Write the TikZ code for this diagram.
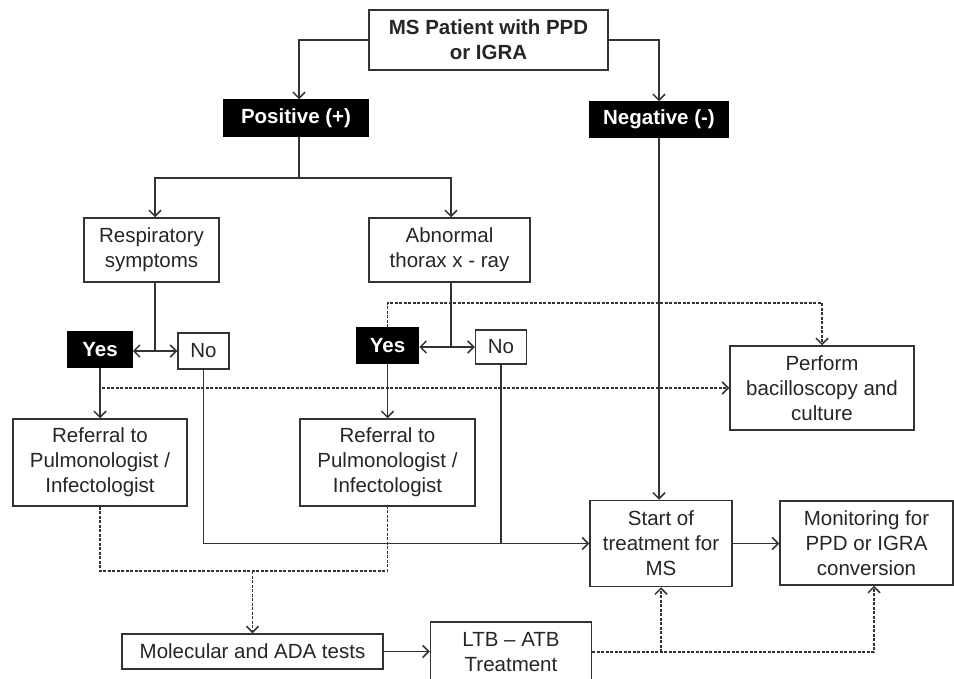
\documentclass[tikz,border=0pt]{standalone}
\usepackage{fontspec}
\setmainfont{Liberation Sans}
\usetikzlibrary{arrows.meta}

\begin{document}
\begin{tikzpicture}[
    x=1pt, y=-1pt,
    >={Straight Barb[length=6pt, width=12pt]},
    every node/.style={rectangle, draw=black!80, line width=1.5pt, inner sep=2pt,
        align=center, font=\fontsize{20.5}{25}\selectfont},
    textbox/.style={fill=white, text=black!85},
    darkbox/.style={fill=black, draw=black, text=white,
        font=\fontsize{20.5}{25}\selectfont\bfseries},
    flow/.style={draw=black!80, line width=1.5pt},
    dashflow/.style={flow, dash pattern=on 3pt off 1.5pt}
]

% page
\path[fill=white] (0,0) rectangle (954,679);
\useasboundingbox (0,0) rectangle (954,679);

% test result
\node[textbox, font=\fontsize{20.5}{25}\selectfont\bfseries, minimum width=239pt, minimum height=60pt] (ms_patient) at (488.5,40) {MS Patient with PPD\\or IGRA};
\node[darkbox, minimum width=144pt, minimum height=36pt] (positive) at (296,118) {Positive (+)};
\node[darkbox, minimum width=139pt, minimum height=35pt] (negative) at (659,119.5) {Negative (-)};

% positive branch
\node[textbox, minimum width=135pt, minimum height=64pt] (resp) at (151.5,250) {Respiratory\\symptoms};
\node[textbox, minimum width=161pt, minimum height=64pt] (abnormal) at (449.5,250) {Abnormal\\thorax x - ray};

\node[darkbox, minimum width=64pt, minimum height=35pt] (yes_resp) at (100,349.5) {Yes};
\node[textbox, minimum width=51pt, minimum height=36pt] (no_resp) at (203.5,351) {No};
\node[darkbox, minimum width=62pt, minimum height=35pt] (yes_xray) at (387.5,345.5) {Yes};
\node[textbox, minimum width=51pt, minimum height=34pt] (no_xray) at (501,347) {No};

\node[textbox, minimum width=184pt, minimum height=84pt] (bacilloscopy) at (822,388) {Perform\\bacilloscopy and\\culture};
\node[textbox, minimum width=174pt, minimum height=87pt] (referral_resp) at (100,462.5) {Referral to\\Pulmonologist /\\Infectologist};
\node[textbox, minimum width=175pt, minimum height=87pt] (referral_xray) at (387.5,462.5) {Referral to\\Pulmonologist /\\Infectologist};

% treatment
\node[textbox, minimum width=142pt, minimum height=86pt] (start_ms) at (661,543.5) {Start of\\treatment for\\MS};
\node[textbox, minimum width=173pt, minimum height=84pt] (monitoring) at (866.5,543) {Monitoring for\\PPD or IGRA\\conversion};
\node[textbox, minimum width=261pt, minimum height=35pt] (molecular) at (252.5,651.5) {Molecular and ADA tests};
\node[textbox, minimum width=161pt, minimum height=60pt] (ltb_atb) at (511,652) {LTB – ATB\\Treatment};

% bends
\coordinate (pos_split) at (299,178);
\coordinate (resp_split) at (155,351);
\coordinate (xray_split) at (451,347);
\coordinate (culture_bend) at (387.5,303);
\coordinate (referral_join) at (252.5,571);

% result edges
\draw[flow, ->] (ms_patient.west) -| (positive.north -| pos_split);
\draw[flow, ->] (ms_patient.east) -| (negative.north);
\draw[flow] (positive.south -| pos_split) -- (pos_split);
\draw[flow, ->] (pos_split) -| (resp.north -| resp_split);
\draw[flow, ->] (pos_split) -| (abnormal.north -| xray_split);

% yes / no edges
\draw[flow] (resp.south -| resp_split) -- (resp_split);
\draw[flow, <->] (yes_resp.east |- resp_split) -- (no_resp.west |- resp_split);
\draw[flow] (abnormal.south -| xray_split) -- (xray_split);
\draw[flow, <->] (yes_xray.east |- xray_split) -- (no_xray.west |- xray_split);
\draw[flow, ->] (yes_resp) -- (referral_resp);
\draw[flow, ->] (yes_xray) -- (referral_xray);

% bacilloscopy edges
\draw[dashflow, ->] (yes_resp.south) |- (bacilloscopy.west);
\draw[dashflow, ->] (yes_xray.north) -- (culture_bend) -| (bacilloscopy.north);

% treatment edges
\draw[flow, ->] (no_resp.south) |- (start_ms.west);
\draw[flow] (no_xray.south) |- (start_ms.west);
\draw[flow, ->] (negative.south) -- (negative.south |- start_ms.north);
\draw[flow, ->] (start_ms.east) -- (monitoring.west |- start_ms.east);

% tests edges
\draw[dashflow] (referral_resp.south) |- (referral_join) -| (referral_xray.south);
\draw[dashflow, ->] (referral_join) -- (molecular.north);
\draw[flow, ->] (molecular.east) -- (ltb_atb.west |- molecular.east);
\draw[dashflow, ->] (ltb_atb.east) -| ([xshift=7.5pt]monitoring.south);
\draw[dashflow, ->] (start_ms.south |- ltb_atb.east) -- (start_ms.south);

\end{tikzpicture}
\end{document}
